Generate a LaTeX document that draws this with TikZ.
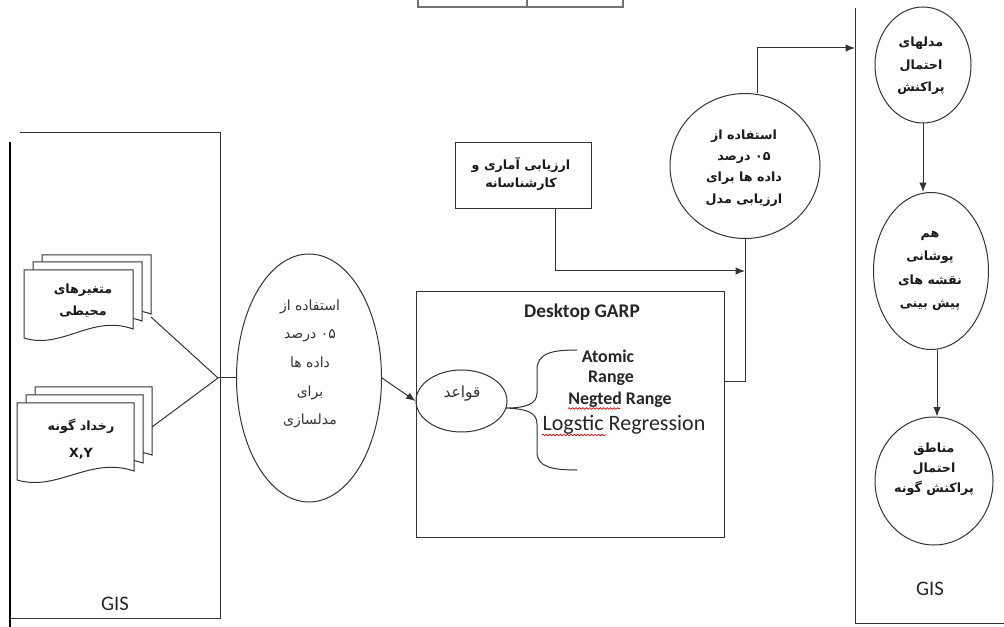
\documentclass[tikz,border=0pt]{standalone}
\usepackage{fontspec}
\setmainfont{Carlito}
\newfontfamily\arabicfont[Script=Arabic]{DejaVu Sans}
\TeXXeTstate=1
\usetikzlibrary{arrows.meta,shapes.geometric,decorations.pathmorphing,calc}
\newcommand\farsi[1]{\beginR#1\endR}
\newcommand\docpg[4]{\filldraw[ln,fill=white] (#1,#2) -- (#1+#3,#2) -- (#1+#3,#2+#4-9) .. controls (#1+0.62*#3,#2+#4-24) and (#1+0.35*#3,#2+#4+12) .. (#1,#2+#4) -- cycle;}
\tikzset{
  ln/.style={draw=black!80, line width=0.75pt},
  arr/.style={ln, -{Latex[length=7pt,width=5.5pt]}},
  faB/.style={font=\arabicfont\bfseries\fontsize{9.5}{16}\selectfont, align=center, text=black!90, inner sep=0pt},
  faR/.style={font=\arabicfont\fontsize{10.5}{21.5}\selectfont, align=center, text=black!80, inner sep=0pt},
  ell/.style={ln, ellipse, inner sep=0pt},
  lat/.style={font=\fontsize{13.4}{15}\selectfont\bfseries, text=black!85, inner sep=0pt},
  wavy/.style={draw=red!80!black, line width=0.5pt, decorate, decoration={snake, amplitude=0.6pt, segment length=2.6pt}}
}
\begin{document}
\begin{tikzpicture}[x=0.75pt,y=-0.75pt]
\useasboundingbox (0,0) rectangle (1004,627);
\fill[white] (0,0) rectangle (1004,627);

% scale bar at top
\draw[draw=black!55, line width=0.8pt] (418,0) -- (418,7) -- (623,7) -- (623,0);
\draw[draw=black!55, line width=0.8pt] (527,0) -- (527,7);

% left GIS frame
\draw[ln] (20,133) -- (220,133) -- (220,618) -- (10,618);
\draw[black, line width=1.8pt] (10,142) -- (10,627);
\node[font=\fontsize{15.5}{18}\selectfont, text=black!85] (gisL) at (115,604) {GIS};

% right GIS frame
\draw[ln] (855,8) -- (855,623) -- (1004,623);
\node[font=\fontsize{15.5}{18}\selectfont, text=black!85] (gisR) at (930,589) {GIS};

% documents
\docpg{42}{255}{109}{68}
\docpg{33}{262}{109}{68}
\docpg{24}{270}{109}{68}
\node[faB, font=\arabicfont\bfseries\fontsize{9.5}{16.5}\selectfont] (d1) at (83,301) {\farsi{متغیرهای}\\\farsi{محیطی}};
\docpg{35}{387}{117}{77}
\docpg{26}{395}{117}{77}
\docpg{17}{403}{117}{77}
\node[faB, font=\arabicfont\bfseries\fontsize{9.5}{20}\selectfont] (d2) at (81,439) {\farsi{رخداد گونه}\\X,Y};

\coordinate (p1) at (151,317);
\coordinate (p2) at (152,427);
\coordinate (jn) at (218,378);

% ellipse 1
\node[ell, minimum width=108.75pt, minimum height=186pt] (e1) at (309,378) {};
\node[faR] (e1t) at (310,364) {\farsi{استفاده از}\\\farsi{۰۵ درصد}\\\farsi{داده ها}\\\farsi{برای}\\\farsi{مدلسازی}};

\draw[ln] (p1) -- (jn);
\draw[ln] (p2) -- (jn);
\draw[ln] (jn) -- (e1.west);

% Desktop GARP box
\node[ln, draw, rectangle, minimum width=231pt, minimum height=183.75pt, inner sep=0pt] (garp) at (570,414.5) {};
\node[font=\fontsize{14.5}{16}\selectfont\bfseries, text=black!85, inner sep=0pt] (garpt) at (582,312) {Desktop GARP};
\node[ell, minimum width=68.25pt, minimum height=46.5pt] (qa) at (461.5,401) {};
\node[faR, font=\arabicfont\fontsize{11.5}{12}\selectfont] (qat) at (462,394) {\farsi{قواعد}};
\draw[arr] (e1.east) -- (qa.west);

% brace
\coordinate (tip) at (506,408);
\coordinate (bt) at (577,350);
\coordinate (bb) at (577,470);
\draw[ln] (bt) .. controls (552,350) and (537,353) .. (537,370) -- (537,393) .. controls (537,404) and (526,408) .. (tip)
  .. controls (526,409) and (537,412) .. (537,424) -- (537,452) .. controls (537,467) and (552,470) .. (bb);

\node[lat] (atomic) at (608,356) {Atomic};
\node[lat] (range) at (611,378) {Range};
\node[lat] (negted) at (620,400) {Negted Range};
\node[font=\fontsize{16.5}{18}\selectfont, text=black!85, inner sep=0pt] (logit) at (624,425) {Logstic Regression};
\draw[wavy] (568,408.5) -- (620,408.5);
\draw[wavy] (542,435) -- (606,435);

% evaluation box
\node[ln, draw, rectangle, minimum width=102pt, minimum height=49.5pt, inner sep=0pt] (eval) at (523,176) {};
\node[faB, font=\arabicfont\bfseries\fontsize{9.5}{13.5}\selectfont] (evalt) at (521,174) {\farsi{ارزیابی آماری و}\\\farsi{کارشناسانه}};

% circle 2
\node[ell, minimum width=112.5pt, minimum height=108.75pt] (c2) at (745,166) {};
\node[faB] (c2t) at (744,168) {\farsi{استفاده از}\\\farsi{۰۵ درصد}\\\farsi{داده ها برای}\\\farsi{ارزیابی مدل}};
\coordinate (j2) at (745,271);
\coordinate (rin) at (855,48);
\draw[arr] ([xshift=24pt]eval.south) |- (j2);
\draw[ln] ([yshift=24.4pt]garp.east) -| (c2.south);
\draw[arr] ([xshift=9pt]c2.north) |- (rin);

% right column
\node[ell, minimum width=72pt, minimum height=87pt] (c3) at (923,65) {};
\node[faB, font=\arabicfont\bfseries\fontsize{9.5}{17}\selectfont] (c3t) at (921,66) {\farsi{مدلهای}\\\farsi{احتمال}\\\farsi{پراکنش}};
\node[ell, minimum width=86.25pt, minimum height=117.75pt] (c4) at (931,271) {};
\node[faB, font=\arabicfont\bfseries\fontsize{9.5}{17.5}\selectfont] (c4t) at (930,271) {\farsi{هم}\\\farsi{پوشانی}\\\farsi{نقشه های}\\\farsi{پیش بینی}};
\node[ell, minimum width=88.5pt, minimum height=96pt] (c5) at (934,481) {};
\node[faB, font=\arabicfont\bfseries\fontsize{9.5}{15}\selectfont] (c5t) at (934,469) {\farsi{مناطق}\\\farsi{احتمال}\\\farsi{پراکنش گونه}};
\draw[arr] (c3.south) -- (c3.south |- c4.north);
\draw[arr] ([xshift=4.5pt]c4.south) -- ([xshift=4.5pt]c4.south |- c5.north);
\end{tikzpicture}
\end{document}
